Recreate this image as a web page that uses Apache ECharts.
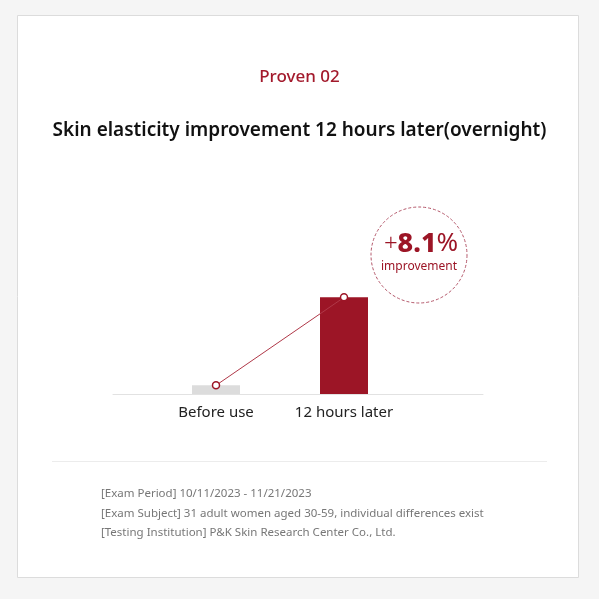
<!DOCTYPE html>
<html>
<head>
<meta charset="utf-8">
<script src="https://cdn.jsdelivr.net/npm/echarts@6/dist/echarts.min.js"></script>
<style>
  html, body { margin: 0; padding: 0; background: #f5f5f5; }
  #chart { width: 599px; height: 599px; }
</style>
</head>
<body>
<div id="chart"></div>
<script>
const categories = ['Before use', '12 hours later']
const values = [100, 108.1]
const improvement = '8.1'
const notes = [
  '[Exam Period] 10/11/2023 - 11/21/2023',
  '[Exam Subject] 31 adult women aged 30-59, individual differences exist',
  '[Testing Institution] P&K Skin Research Center Co., Ltd.',
]

const RED = '#9c1526'
const font = '"Noto Sans", "Open Sans", sans-serif'

const chart = echarts.init(document.getElementById('chart'))

chart.setOption({
  backgroundColor: '#f5f5f5',
  animation: false,
  textStyle: { fontFamily: font },
  title: [
    {
      text: 'Proven 02', left: 'center', top: 64,
      textStyle: { color: '#a31a2c', fontSize: 17, fontWeight: 500, fontFamily: font },
    },
    {
      text: 'Skin elasticity improvement 12 hours later(overnight)', left: 'center', top: 116,
      textStyle: { color: '#111', fontSize: 19, fontWeight: 600, fontFamily: font },
    },
    {
      text: notes.join('\n'), left: 101, top: 484, padding: 0,
      textStyle: { color: '#777', fontSize: 11.5, fontWeight: 400, lineHeight: 19.5, fontFamily: font },
    },
  ],
  grid: [
    { left: 152, width: 256, top: 242, height: 152 },
    { left: 113, width: 370, top: 242, height: 152 },
  ],
  xAxis: [
    {
      type: 'category', data: categories, gridIndex: 0,
      axisLine: { show: false }, axisTick: { show: false },
      axisLabel: { color: '#222', fontSize: 15, margin: 11, fontFamily: font },
    },
    {
      type: 'value', gridIndex: 1, min: 0, max: 1,
      axisLine: { show: true, lineStyle: { color: '#e2e2e2', width: 1 } },
      axisTick: { show: false }, axisLabel: { show: false }, splitLine: { show: false },
    },
  ],
  yAxis: [
    { type: 'value', gridIndex: 0, min: 99.2, max: 113.2, show: false },
    { type: 'value', gridIndex: 1, min: 0, max: 1, show: false },
  ],
  series: [
    {
      type: 'bar', xAxisIndex: 0, yAxisIndex: 0, barWidth: 48, z: 2,
      data: values.map((v, i) => ({
        value: v,
        itemStyle: { color: i === 0 ? '#dcdcdc' : RED },
      })),
    },
    {
      type: 'line', xAxisIndex: 0, yAxisIndex: 0, data: values, z: 5,
      symbol: 'circle', symbolSize: 7,
      lineStyle: { color: '#b03848', width: 1 },
      itemStyle: { color: '#fff', borderColor: RED, borderWidth: 1.5 },
    },
  ],
  graphic: [
    {
      type: 'rect', z: -10,
      shape: { x: 17.5, y: 15.5, width: 561, height: 562 },
      style: { fill: '#fff', stroke: '#dcdcdc', lineWidth: 1 },
    },
    {
      type: 'line', z: -5,
      shape: { x1: 52, y1: 461.5, x2: 547, y2: 461.5 },
      style: { stroke: '#ececec', lineWidth: 1 },
    },
    {
      type: 'circle',
      shape: { cx: 419, cy: 255, r: 48 },
      style: { fill: 'none', stroke: '#b4576a', lineWidth: 1, lineDash: [3, 2] },
    },
    {
      type: 'text', x: 421, y: 244,
      style: {
        text: '{p|+}{n|' + improvement + '}{pc|%}',
        align: 'center', verticalAlign: 'middle',
        rich: {
          p: { fontSize: 24, fontWeight: 300, fill: RED, fontFamily: font },
          n: { fontSize: 27, fontWeight: 800, fill: RED, fontFamily: font },
          pc: { fontSize: 26, fontWeight: 400, fill: RED, fontFamily: font },
        },
      },
    },
    {
      type: 'text', x: 419, y: 267,
      style: {
        text: 'improvement', align: 'center', verticalAlign: 'middle',
        fontSize: 12, fill: RED, fontFamily: font,
      },
    },
  ],
})
</script>
</body>
</html>
